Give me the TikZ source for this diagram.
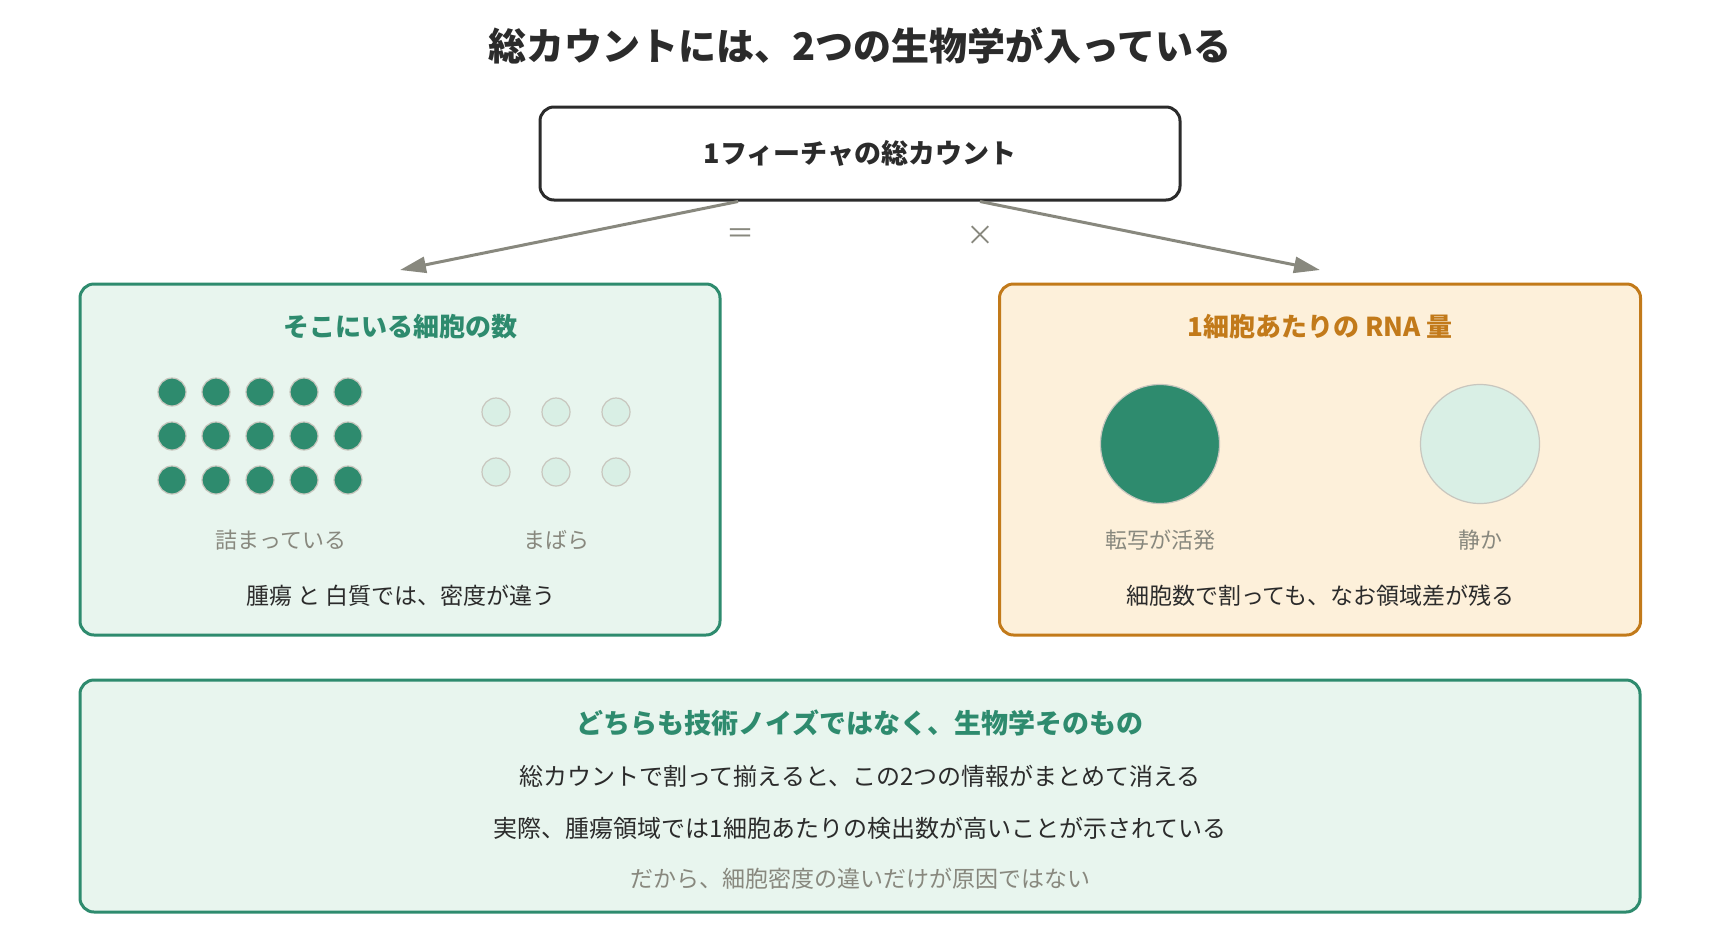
\documentclass[tikz,border=0pt]{standalone}
\usepackage{fontspec}
\setmainfont{Noto Sans CJK JP}
\usetikzlibrary{arrows.meta}
\definecolor{inkdark}{RGB}{43,43,43}
\definecolor{inkgray}{RGB}{136,136,126}
\definecolor{cellgreen}{RGB}{46,139,110}
\definecolor{cellmint}{RGB}{232,245,238}
\definecolor{cellpale}{RGB}{217,239,229}
\definecolor{celledge}{RGB}{200,198,190}
\definecolor{rnaorange}{RGB}{194,122,26}
\definecolor{rnacream}{RGB}{253,240,218}
\newcommand{\fsz}[1]{\fontsize{#1}{#1}\selectfont}

\begin{document}
\begin{tikzpicture}[x=1pt,y=-1pt,
  panel/.style={line width=3pt,rounded corners=14pt,inner sep=0pt},
  link/.style={line width=3pt,draw=inkgray,-{Triangle[length=26pt,width=16pt]}},
  headtext/.style={font=\bfseries\fsz{26}},
  bodytext/.style={font=\fsz{23},text=inkdark},
  smalltext/.style={font=\fsz{22},text=inkgray},
  densecell/.style={fill=cellgreen,draw=celledge,line width=1.2pt},
  sparsecell/.style={fill=cellpale,draw=celledge,line width=1.2pt}]
  \useasboundingbox[fill=white] (0,0) rectangle (1720,940);

  % title and total box
  \node[font=\bfseries\fsz{38},text=inkdark] (title) at (860,46) {総カウントには、2つの生物学が入っている};
  \node[panel,draw=inkdark,fill=white,minimum width=640pt,minimum height=93pt,
        font=\bfseries\fsz{27},text=inkdark] (total) at (860,153.5) {1フィーチャの総カウント};

  % two factors
  \node[panel,draw=cellgreen,fill=cellmint,minimum width=640pt,minimum height=351pt] (cells) at (400,459.5) {};
  \node[panel,draw=rnaorange,fill=rnacream,minimum width=641pt,minimum height=351pt] (rna) at (1320,459.5) {};
  \coordinate (cellsend) at (400,270);
  \coordinate (rnaend) at (1320,270);
  \draw[link] ([xshift=-122pt]total.south) -- (cellsend);
  \draw[link] ([xshift=120pt]total.south) -- (rnaend);
  \node[font=\fsz{28},text=inkgray] (eqsign) at (740,236) {＝};
  \node[font=\fsz{28},text=inkgray] (timessign) at (980,236) {×};

  % cell count panel
  \node[headtext,text=cellgreen] (cellshead) at (400,327) {そこにいる細胞の数};
  \foreach \i in {0,...,4} {
    \foreach \j in {0,1,2} { \filldraw[densecell]({172+\i*44},{392+\j*44})circle(14pt); }
  }
  \foreach \i in {0,1,2} {
    \foreach \j in {0,1} { \filldraw[sparsecell]({496+\i*60},{412+\j*60})circle(14pt); }
  }
  \node[smalltext] (denselabel) at (281,540) {詰まっている};
  \node[smalltext] (sparselabel) at (556,540) {まばら};
  \node[bodytext] (cellsnote) at (401,596) {腫瘍 と 白質では、密度が違う};

  % RNA per cell panel
  \node[headtext,text=rnaorange] (rnahead) at (1320,327) {1細胞あたりの RNA 量};
  \filldraw[densecell] (1160,444) circle(59.5pt);
  \filldraw[sparsecell] (1480,444) circle(59.5pt);
  \node[smalltext] (activelabel) at (1160,540) {転写が活発};
  \node[smalltext] (quietlabel) at (1480,540) {静か};
  \node[bodytext] (rnanote) at (1320,596) {細胞数で割っても、なお領域差が残る};

  % conclusion
  \node[panel,draw=cellgreen,fill=cellmint,minimum width=1560pt,minimum height=232pt] (summary) at (860,796) {};
  \node[font=\bfseries\fsz{27},text=cellgreen] (summaryhead) at (860,723) {どちらも技術ノイズではなく、生物学そのもの};
  \node[bodytext,font=\fsz{24}] (summaryone) at (860,776) {総カウントで割って揃えると、この2つの情報がまとめて消える};
  \node[bodytext,font=\fsz{24}] (summarytwo) at (860,828) {実際、腫瘍領域では1細胞あたりの検出数が高いことが示されている};
  \node[smalltext,font=\fsz{23}] (summarythree) at (860,879) {だから、細胞密度の違いだけが原因ではない};
\end{tikzpicture}
\end{document}
